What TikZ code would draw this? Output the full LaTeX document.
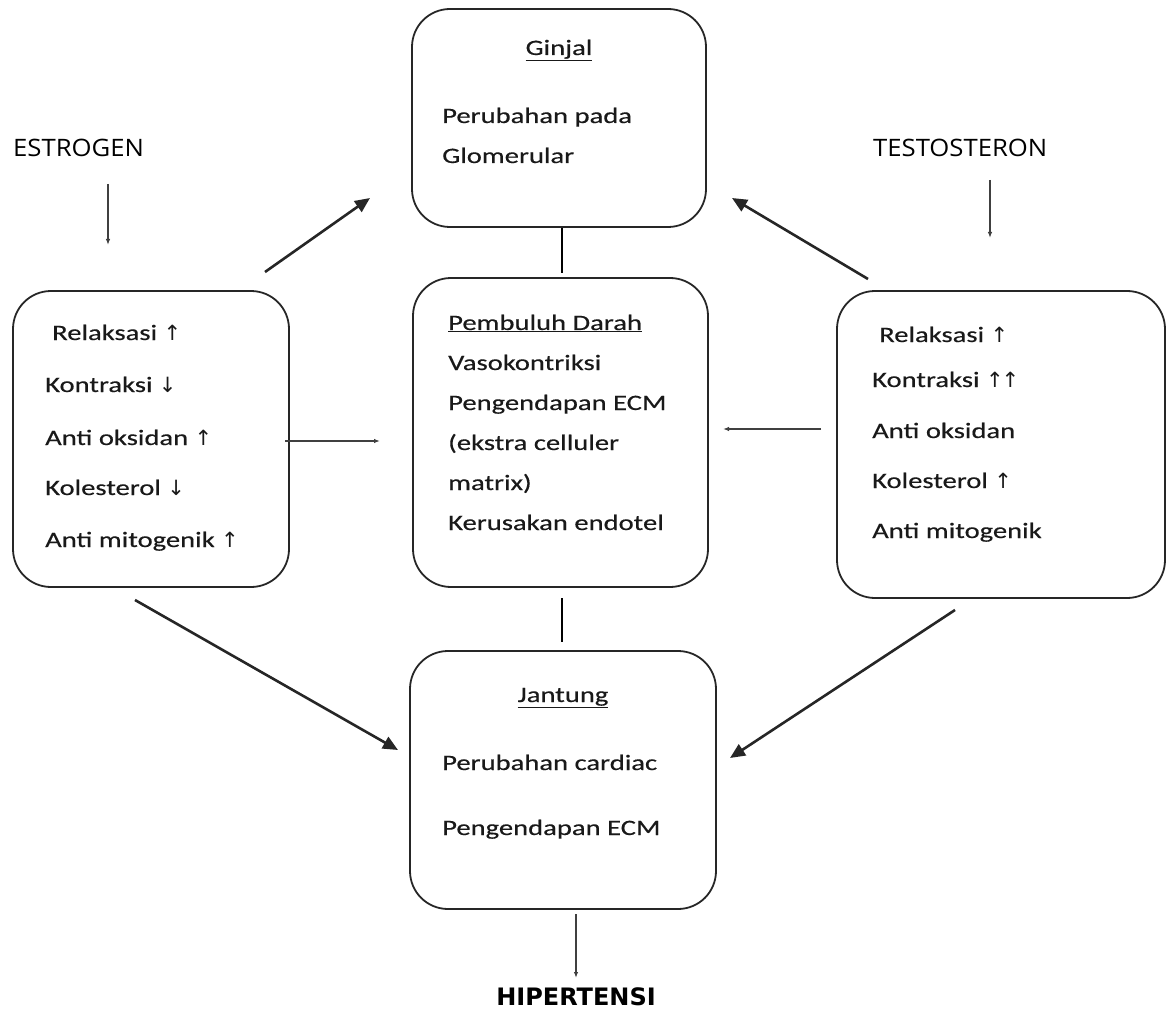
\documentclass[tikz,border=0pt]{standalone}
\usepackage{fontspec}
\setmainfont{Carlito}
\newfontfamily\boxfont[FakeStretch=1.3,FakeBold=0.4]{Carlito}
\newfontfamily\arrfont{DejaVu Sans}
\newfontfamily\labfont[FakeStretch=1.07]{Open Sans}
\newfontfamily\hipfont{DejaVu Sans}
\usetikzlibrary{arrows.meta}
\newcommand{\up}{{\arrfont\fontsize{21}{22}\selectfont ↑}}
\newcommand{\dn}{{\arrfont\fontsize{21}{22}\selectfont ↓}}
\begin{document}
\begin{tikzpicture}[x=1pt,y=-1pt,
  box/.style={draw=black!85, line width=1.8pt, rounded corners=38pt, inner sep=0pt},
  txt/.style={anchor=base west, inner sep=0pt, text=black!90, font=\boxfont\fontsize{22}{26}\selectfont},
  ctxt/.style={anchor=base, inner sep=0pt, text=black!90, font=\boxfont\fontsize{22}{26}\selectfont},
  lab/.style={anchor=base west, inner sep=0pt, font=\labfont\fontsize{24}{28}\selectfont},
  thick arrow/.style={line width=2.6pt, black!85, -{Triangle[length=15pt,width=13pt]}},
  thin arrow/.style={line width=1.5pt, black!75, -{Latex[length=6pt,width=4.5pt]}},
  link/.style={line width=1.5pt, black}]
\useasboundingbox (0,0) rectangle (1168,1019);
% boxes
\node[box, minimum width=294pt, minimum height=218pt] (ginjal) at (559,118) {};
\node[box, minimum width=295pt, minimum height=309pt] (pembuluh) at (560.5,432.5) {};
\node[box, minimum width=306pt, minimum height=258pt] (jantung) at (563,780) {};
\node[box, minimum width=276pt, minimum height=296pt] (left) at (151,439) {};
\node[box, minimum width=328pt, minimum height=307pt] (right) at (1001,444.5) {};
% Ginjal text
\node[ctxt] (g1) at (559,55) {\underline{Ginjal}};
\node[txt] (g2) at (442,123) {Perubahan pada};
\node[txt] (g3) at (442,163) {Glomerular};
% Pembuluh text
\node[txt] (p1) at (448,330) {\underline{Pembuluh Darah}};
\node[txt] (p2) at (448,370) {Vasokontriksi};
\node[txt] (p3) at (448,410) {Pengendapan ECM};
\node[txt] (p4) at (448,450) {(ekstra celluler};
\node[txt] (p5) at (448,490) {matrix)};
\node[txt] (p6) at (448,530) {Kerusakan endotel};
% Jantung text
\node[ctxt] (j1) at (563,702) {\underline{Jantung}};
\node[txt] (j2) at (442,770) {Perubahan cardiac};
\node[txt] (j3) at (442,835) {Pengendapan ECM};
% left box text
\node[txt] (l1) at (52,340) {Relaksasi \up};
\node[txt] (l2) at (45,392) {Kontraksi \dn};
\node[txt] (l3) at (45,445) {Anti oksidan \up};
\node[txt] (l4) at (45,495) {Kolesterol \dn};
\node[txt] (l5) at (45,547) {Anti mitogenik \up};
% right box text
\node[txt] (r1) at (879,342) {Relaksasi \up};
\node[txt] (r2) at (872,387) {Kontraksi \up\kern-2pt\up};
\node[txt] (r3) at (872,438) {Anti oksidan};
\node[txt] (r4) at (872,488) {Kolesterol \up};
\node[txt] (r5) at (872,538) {Anti mitogenik};
% labels
\node[lab] (estrogen) at (13,157) {ESTROGEN};
\node[lab] (testo) at (873,157) {TESTOSTERON};
\node[anchor=base, inner sep=0pt, font=\hipfont\bfseries\fontsize{24}{28}\selectfont] (hip) at (576,1005) {HIPERTENSI};
% coordinates
\coordinate (e1) at (108,184); \coordinate (e2) at (108,245);
\coordinate (t1) at (990,180); \coordinate (t2) at (990,238);
\coordinate (lm1) at (285,441); \coordinate (lm2) at (380,441);
\coordinate (rm1) at (821,429); \coordinate (rm2) at (723,429);
\coordinate (h1) at (576,914); \coordinate (h2) at (576,978);
\coordinate (gp) at (562,273);
\coordinate (pj1) at (562,598); \coordinate (pj2) at (562,642);
\coordinate (lu1) at (265,272); \coordinate (lu2) at (370,198);
\coordinate (ru1) at (868,279); \coordinate (ru2) at (732,198);
\coordinate (ld1) at (135,600); \coordinate (ld2) at (398,750);
\coordinate (rd1) at (955,610); \coordinate (rd2) at (730,758);
% connectors
\draw[thin arrow] (e1) -- (e2);
\draw[thin arrow] (t1) -- (t2);
\draw[thin arrow] (lm1) -- (lm2);
\draw[thin arrow] (rm1) -- (rm2);
\draw[thin arrow] (h1) -- (h2);
\draw[link] (ginjal.south -| gp) -- (gp);
\draw[link] (pj1) -- (pj2);
\draw[thick arrow] (lu1) -- (lu2);
\draw[thick arrow] (ru1) -- (ru2);
\draw[thick arrow] (ld1) -- (ld2);
\draw[thick arrow] (rd1) -- (rd2);
\end{tikzpicture}
\end{document}
